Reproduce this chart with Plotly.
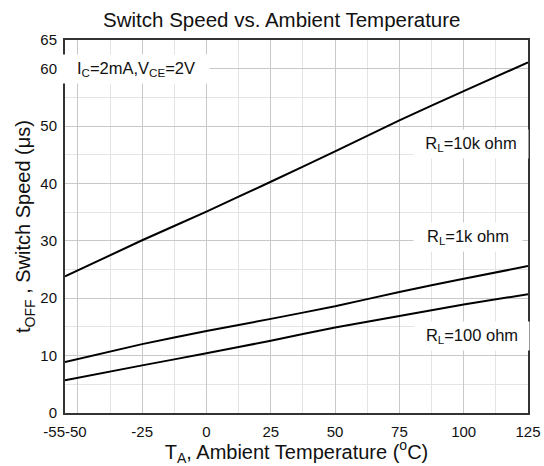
import plotly.graph_objects as go

temp = [-55, -25, 0, 25, 50, 75, 100, 125]
rl_10k = [23.8, 30.1, 35.1, 40.3, 45.6, 51.0, 56.1, 61.1]
rl_1k = [8.9, 12.0, 14.3, 16.4, 18.6, 21.1, 23.4, 25.6]
rl_100 = [5.7, 8.3, 10.4, 12.6, 14.9, 16.9, 18.9, 20.7]

x_ticks = [-55, -50, -25, 0, 25, 50, 75, 100, 125]
x_tick_text = ["-55-50", "", "-25", "0", "25", "50", "75", "100", "125"]
x_minor = [-37.5, -12.5, 12.5, 37.5, 62.5, 87.5, 112.5]
y_ticks = [0, 10, 20, 30, 40, 50, 60, 65]
y_minor = [5, 15, 25, 35, 45, 55]

FONT = "Liberation Sans, Arial, sans-serif"

fig = go.Figure()
for ys in (rl_10k, rl_1k, rl_100):
    fig.add_trace(go.Scatter(x=temp, y=ys, mode="lines",
                             line=dict(color="black", width=2, shape="spline", smoothing=0.5),
                             showlegend=False, hoverinfo="skip"))

fig.update_layout(
    width=544, height=466,
    margin=dict(l=65, r=16, t=40, b=53),
    paper_bgcolor="white", plot_bgcolor="white",
    font=dict(family=FONT, color="#111", size=15),
    title=dict(text="Switch Speed vs. Ambient Temperature", x=0.518, xanchor="center",
               y=0.958, yanchor="middle", font=dict(size=20.5, family=FONT, color="#111")),
)
fig.update_xaxes(
    range=[-55, 125], tickvals=x_ticks, ticktext=x_tick_text, tickangle=0,
    showgrid=True, gridcolor="#c8c8c8", gridwidth=1,
    minor=dict(tickvals=x_minor, showgrid=True, gridcolor="#e4e4e4", gridwidth=1),
    showline=True, linecolor="#333", linewidth=2, mirror=True,
    ticks="", zeroline=False, tickfont=dict(size=15), automargin=False,
    ticklabelstandoff=4,
    title=dict(text="T<sub>A</sub>, Ambient Temperature (<sup>o</sup>C)", font=dict(size=20), standoff=4),
)
fig.update_yaxes(
    range=[0, 65], tickvals=y_ticks, ticktext=[str(v) for v in y_ticks],
    showgrid=True, gridcolor="#c8c8c8", gridwidth=1,
    minor=dict(tickvals=y_minor, showgrid=True, gridcolor="#e4e4e4", gridwidth=1),
    showline=True, linecolor="#333", linewidth=2, mirror=True,
    ticks="", zeroline=False, tickfont=dict(size=15), automargin=False,
    ticklabelstandoff=3,
    title=dict(text="t<sub>OFF</sub> , Switch Speed (\u03bcs)", font=dict(size=20), standoff=4),
)

def label(text, x, y, w):
    fig.add_annotation(text=text, x=x, y=y, xref="x", yref="y", showarrow=False,
                       bgcolor="white", font=dict(size=16.5, family=FONT, color="#111"),
                       xanchor="center", yanchor="middle", borderpad=4, width=w)

label("I<sub>C</sub>=2mA,V<sub>CE</sub>=2V", -27.5, 60, 138)
label("R<sub>L</sub>=10k ohm", 103, 46.8, 106)
label("R<sub>L</sub>=1k ohm", 101.7, 30.6, 100)
label("R<sub>L</sub>=100 ohm", 103.2, 13.4, 106)

fig.write_html("out.html")
